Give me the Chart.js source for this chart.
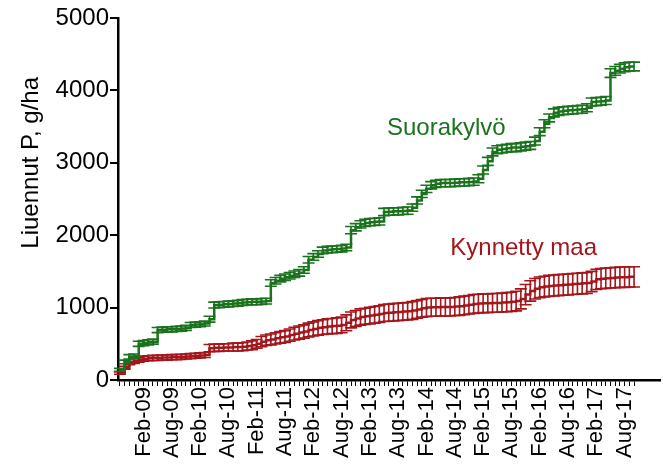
<!DOCTYPE html>
<html>
<head>
<meta charset="UTF-8" />
<title>Liuennut P</title>
<script src="https://cdn.jsdelivr.net/npm/chart.js"></script>
<style>
  body { margin: 0; background: #fff; }
  #kehys { width: 663px; height: 472px; position: relative; }
</style>
</head>
<body>
<div id="kehys"><canvas id="kaavio"></canvas></div>
<script>
// kuukaudet laskettu tammikuusta 2009 (Feb-09 = 1)
const kuukaudet = [
  -4, -3, -2, -1, 0, 1, 2, 3, 4, 5,
  6, 7, 8, 9, 10, 11, 12, 13, 14, 15,
  16, 17, 18, 19, 20, 21, 22, 23, 24, 25,
  26, 27, 28, 29, 30, 31, 32, 33, 34, 35,
  36, 37, 38, 39, 40, 41, 42, 43, 44, 45,
  46, 47, 48, 49, 50, 51, 52, 53, 54, 55,
  56, 57, 58, 59, 60, 61, 62, 63, 64, 65,
  66, 67, 68, 69, 70, 71, 72, 73, 74, 75,
  76, 77, 78, 79, 80, 81, 82, 83, 84, 85,
  86, 87, 88, 89, 90, 91, 92, 93, 94, 95,
  96, 97, 98, 99, 100, 101, 102, 103, 104, 105
];

const suorakylvo = [
  140, 250, 320, 330, 500, 510, 520, 530, 690, 695,
  700, 700, 705, 710, 720, 760, 765, 770, 780, 840,
  1035, 1040, 1045, 1050, 1055, 1060, 1070, 1075, 1080, 1080,
  1085, 1090, 1340, 1370, 1400, 1420, 1440, 1460, 1480, 1520,
  1660, 1700, 1740, 1790, 1800, 1805, 1810, 1815, 1830, 2070,
  2110, 2150, 2170, 2180, 2185, 2190, 2320, 2325, 2330, 2330,
  2335, 2340, 2380, 2480, 2570, 2640, 2690, 2710, 2720, 2720,
  2720, 2725, 2730, 2730, 2735, 2740, 2780, 2900, 3020, 3150,
  3180, 3190, 3200, 3210, 3210, 3220, 3230, 3240, 3300, 3430,
  3540, 3620, 3690, 3710, 3720, 3725, 3730, 3735, 3740, 3760,
  3840, 3845, 3850, 3860, 4240, 4270, 4300, 4320, 4330, 4330
];
const suorakylvoSem = [
  20, 25, 30, 30, 35, 35, 35, 35, 35, 35,
  35, 35, 35, 35, 35, 35, 35, 35, 35, 40,
  40, 40, 40, 40, 40, 40, 40, 40, 40, 40,
  40, 40, 45, 45, 45, 45, 45, 45, 45, 45,
  45, 45, 45, 45, 45, 45, 45, 45, 45, 50,
  50, 50, 50, 50, 50, 50, 50, 50, 50, 50,
  50, 50, 50, 50, 50, 50, 50, 50, 50, 50,
  50, 50, 50, 50, 50, 50, 55, 55, 55, 55,
  55, 55, 55, 55, 55, 55, 55, 55, 55, 55,
  55, 55, 55, 55, 55, 55, 55, 55, 55, 55,
  55, 55, 55, 55, 60, 60, 60, 60, 60, 60
];

const kynnetty = [
  95, 170, 235, 260, 275, 295, 300, 305, 305, 310,
  310, 315, 315, 320, 325, 330, 335, 340, 345, 440,
  445, 445, 450, 450, 455, 455, 460, 470, 480, 500,
  530, 550, 560, 575, 590, 600, 620, 640, 655, 670,
  690, 705, 720, 730, 740, 745, 750, 760, 790, 830,
  850, 870, 880, 890, 900, 910, 925, 930, 935, 940,
  945, 950, 960, 975, 990, 1000, 1005, 1005, 1010, 1010,
  1010, 1015, 1020, 1030, 1040, 1050, 1055, 1060, 1060, 1065,
  1065, 1070, 1075, 1080, 1090, 1120, 1180, 1230, 1260, 1280,
  1290, 1300, 1305, 1310, 1315, 1320, 1325, 1330, 1335, 1340,
  1360, 1390, 1400, 1405, 1410, 1415, 1420, 1420, 1425, 1425
];
const kynnettySem = [
  15, 20, 25, 30, 30, 35, 35, 35, 35, 35,
  35, 35, 35, 35, 35, 35, 35, 35, 35, 50,
  50, 50, 50, 50, 55, 55, 55, 55, 60, 60,
  70, 72, 75, 78, 80, 82, 85, 88, 90, 92,
  95, 98, 100, 102, 105, 105, 108, 108, 110, 110,
  110, 112, 112, 115, 115, 115, 118, 118, 120, 120,
  120, 120, 122, 122, 122, 125, 125, 125, 125, 125,
  125, 125, 128, 128, 128, 130, 130, 130, 130, 130,
  130, 130, 132, 132, 135, 138, 140, 140, 142, 142,
  142, 145, 145, 145, 145, 145, 145, 145, 145, 145,
  140, 140, 140, 140, 140, 140, 140, 140, 140, 140
];

const xTikit = ['Feb-09', 'Aug-09', 'Feb-10', 'Aug-10', 'Feb-11', 'Aug-11', 'Feb-12', 'Aug-12', 'Feb-13',
  'Aug-13', 'Feb-14', 'Aug-14', 'Feb-15', 'Aug-15', 'Feb-16', 'Aug-16', 'Feb-17', 'Aug-17'];
const xTikkiKk = [1, 7, 13, 19, 25, 31, 37, 43, 49, 55, 61, 67, 73, 79, 85, 91, 97, 103];

const VIHREA = '#1b721d';
const PUNAINEN = '#a3161c';
const FONTTI = '"Liberation Sans", Arial, sans-serif';

const virheet = [suorakylvoSem, kynnettySem];

// virhepalkit piirretaan jokaisen sarjan jalkeen
const virhepalkit = {
  id: 'virhepalkit',
  afterDatasetDraw(chart, args) {
    const sem = virheet[args.index];
    const ds = chart.data.datasets[args.index];
    const sx = chart.scales.x, sy = chart.scales.y;
    const ctx = chart.ctx;
    ctx.save();
    ctx.strokeStyle = ds.borderColor;
    ctx.lineWidth = 1.6;
    ds.data.forEach((p, i) => {
      const px = sx.getPixelForValue(p.x);
      const yt = sy.getPixelForValue(p.y + sem[i]);
      const yb = sy.getPixelForValue(Math.max(p.y - sem[i], 0));
      ctx.beginPath();
      ctx.moveTo(px, yt); ctx.lineTo(px, yb);
      ctx.moveTo(px - 6, yt); ctx.lineTo(px + 6, yt);
      ctx.moveTo(px - 6, yb); ctx.lineTo(px + 6, yb);
      ctx.stroke();
    });
    ctx.restore();
  }
};

// sarjojen nimet ja y-akselin otsikko
const tekstit = {
  id: 'tekstit',
  afterDraw(chart) {
    const sx = chart.scales.x, sy = chart.scales.y;
    const ctx = chart.ctx;
    ctx.save();
    ctx.font = '24px ' + FONTTI;
    ctx.textAlign = 'center';
    ctx.textBaseline = 'middle';
    ctx.fillStyle = VIHREA;
    ctx.fillText('Suorakylvö', sx.getPixelForValue(65.2), sy.getPixelForValue(3470));
    ctx.fillStyle = PUNAINEN;
    ctx.fillText('Kynnetty maa', sx.getPixelForValue(81.6), sy.getPixelForValue(1820));
    ctx.fillStyle = '#000';
    ctx.translate(31, sy.getPixelForValue(3000));
    ctx.rotate(-Math.PI / 2);
    ctx.fillText('Liuennut P, g/ha', 0, 0);
    ctx.restore();
  }
};

const pisteet = arr => arr.map((v, i) => ({ x: kuukaudet[i], y: v }));

new Chart(document.getElementById('kaavio'), {
  type: 'line',
  data: {
    datasets: [
      {
        label: 'Suorakylvö',
        data: pisteet(suorakylvo),
        borderColor: VIHREA,
        borderWidth: 2.5,
        stepped: true,
        pointRadius: 0
      },
      {
        label: 'Kynnetty maa',
        data: pisteet(kynnetty),
        borderColor: PUNAINEN,
        borderWidth: 2.5,
        stepped: true,
        pointRadius: 0
      }
    ]
  },
  options: {
    responsive: true,
    maintainAspectRatio: false,
    animation: false,
    layout: { padding: { top: 18, right: 3, left: 0, bottom: 0 } },
    plugins: {
      legend: { display: false },
      tooltip: { enabled: false }
    },
    scales: {
      x: {
        type: 'linear',
        min: -4.4,
        max: 110.5,
        afterBuildTicks: scale => {
          const t = [];
          for (let m = -4; m <= 105; m++) t.push({ value: m });
          scale.ticks = t;
        },
        afterFit: scale => { scale.height = 92; },
        ticks: {
          autoSkip: false,
          minRotation: 90,
          maxRotation: 90,
          padding: 1,
          color: '#000',
          font: { family: FONTTI, size: 22 },
          callback: v => {
            const k = xTikkiKk.indexOf(v);
            return k >= 0 ? xTikit[k] : '';
          }
        },
        grid: { drawOnChartArea: false, drawTicks: true, tickLength: 6, color: '#000', lineWidth: 1 },
        border: { display: true, color: '#000', width: 2.5 }
      },
      y: {
        min: 0,
        max: 5000,
        afterFit: scale => { scale.width = 118; },
        ticks: {
          stepSize: 1000,
          padding: 1,
          color: '#000',
          font: { family: FONTTI, size: 24 },
          callback: v => String(v)
        },
        grid: { drawOnChartArea: false, drawTicks: true, tickLength: 8, color: '#000', lineWidth: 2 },
        border: { display: true, color: '#000', width: 2.5 }
      }
    }
  },
  plugins: [virhepalkit, tekstit]
});
</script>
</body>
</html>
